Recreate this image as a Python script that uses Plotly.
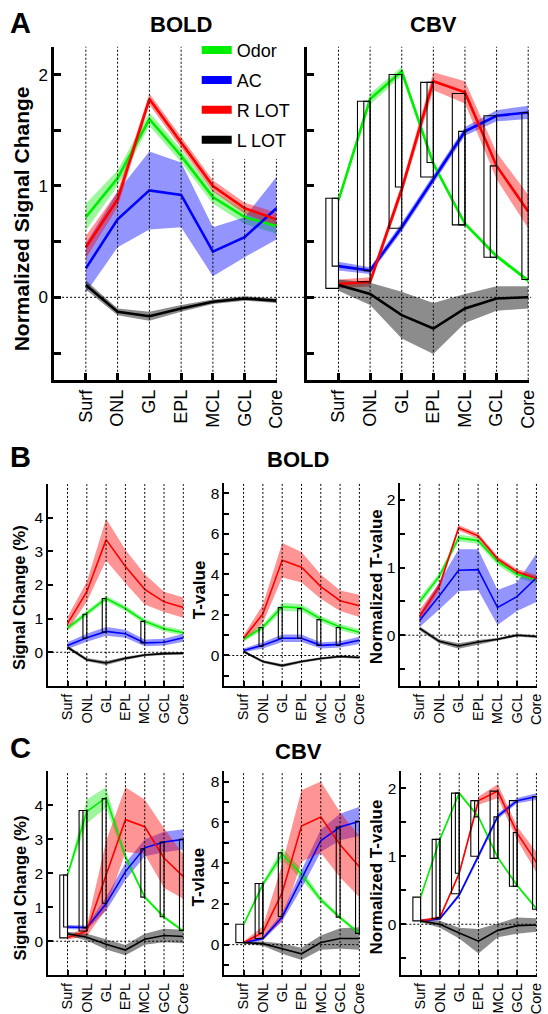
import plotly.graph_objects as go

W, H = 548, 1014
FONT = "Liberation Sans, Arial, Helvetica, sans-serif"

LAYERS = ["Surf", "ONL", "GL", "EPL", "MCL", "GCL", "Core"]
SERIES = ["Odor", "AC", "R LOT", "L LOT"]

# ---------------- Panel A, BOLD (normalized signal change) ----------------
A_BOLD_ODOR = [0.72, 1.07, 1.60, 1.27, 0.90, 0.72, 0.64]
A_BOLD_ODOR_ERR = [0.12, 0.07, 0.06, 0.06, 0.06, 0.06, 0.07]
A_BOLD_AC = [0.26, 0.70, 0.96, 0.92, 0.41, 0.54, 0.80]
A_BOLD_AC_ERR = [0.22, 0.25, 0.35, 0.29, 0.22, 0.18, 0.28]
A_BOLD_RLOT = [0.45, 0.88, 1.78, 1.39, 1.00, 0.80, 0.70]
A_BOLD_RLOT_ERR = [0.10, 0.07, 0.05, 0.05, 0.05, 0.05, 0.06]
A_BOLD_LLOT = [0.11, -0.13, -0.17, -0.10, -0.04, -0.01, -0.03]
A_BOLD_LLOT_ERR = [0.04, 0.03, 0.04, 0.03, 0.02, 0.02, 0.02]

# ---------------- Panel A, CBV (normalized signal change) ----------------
A_CBV_ODOR = [0.87, 1.78, 2.03, 1.20, 0.66, 0.37, 0.15]
A_CBV_ODOR_ERR = [0.02, 0.05, 0.04, 0.02, 0.02, 0.02, 0.02]
A_CBV_AC = [0.28, 0.24, 0.63, 1.06, 1.49, 1.63, 1.66]
A_CBV_AC_ERR = [0.04, 0.03, 0.04, 0.04, 0.04, 0.05, 0.06]
A_CBV_RLOT = [0.12, 0.14, 0.97, 1.94, 1.84, 1.18, 0.77]
A_CBV_RLOT_ERR = [0.04, 0.04, 0.05, 0.08, 0.10, 0.12, 0.15]
A_CBV_LLOT = [0.11, 0.03, -0.16, -0.28, -0.10, -0.01, 0.00]
A_CBV_LLOT_ERR = [0.05, 0.10, 0.21, 0.23, 0.13, 0.11, 0.10]
# significance boxes: (layer index, low, high, wide?)
A_CBV_BOXES = [(0, 0.08, 0.89, 1), (0, 0.28, 0.89, 0),
               (1, 0.14, 1.76, 1), (1, 0.24, 1.76, 0),
               (2, 0.62, 2.00, 1), (2, 0.99, 2.00, 0),
               (3, 1.08, 1.93, 1), (3, 1.21, 1.93, 0),
               (4, 0.65, 1.83, 1), (4, 0.65, 1.49, 0),
               (5, 0.36, 1.63, 1), (5, 0.36, 1.18, 0),
               (6, 0.16, 1.66, 0)]

# ---------------- Panel B, BOLD: signal change (%) ----------------
B_SC_ODOR = [0.72, 1.15, 1.60, 1.30, 0.92, 0.70, 0.58]
B_SC_ODOR_ERR = [0.08, 0.08, 0.08, 0.08, 0.08, 0.08, 0.08]
B_SC_AC = [0.20, 0.43, 0.62, 0.55, 0.28, 0.30, 0.43]
B_SC_AC_ERR = [0.10, 0.12, 0.13, 0.12, 0.10, 0.10, 0.12]
B_SC_RLOT = [0.85, 1.80, 3.35, 2.55, 1.87, 1.50, 1.33]
B_SC_RLOT_ERR = [0.20, 0.30, 0.62, 0.50, 0.45, 0.30, 0.30]
B_SC_LLOT = [0.15, -0.22, -0.32, -0.18, -0.08, -0.04, -0.03]
B_SC_LLOT_ERR = [0.05, 0.05, 0.06, 0.05, 0.04, 0.04, 0.04]
B_SC_BOXES = [(1, 0.42, 1.13, 0), (2, 0.60, 1.60, 0), (4, 0.28, 0.92, 0)]

# ---------------- Panel B, BOLD: T-value ----------------
B_T_ODOR = [0.80, 1.40, 2.40, 2.35, 1.80, 1.40, 1.15]
B_T_ODOR_ERR = [0.12, 0.15, 0.20, 0.18, 0.15, 0.15, 0.15]
B_T_AC = [0.25, 0.50, 0.85, 0.85, 0.50, 0.55, 0.75]
B_T_AC_ERR = [0.10, 0.15, 0.18, 0.18, 0.15, 0.15, 0.18]
B_T_RLOT = [0.85, 2.05, 4.70, 4.35, 3.40, 2.70, 2.45]
B_T_RLOT_ERR = [0.15, 0.45, 0.85, 0.75, 0.60, 0.50, 0.55]
B_T_LLOT = [0.20, -0.30, -0.50, -0.30, -0.15, -0.05, -0.10]
B_T_LLOT_ERR = [0.06, 0.07, 0.08, 0.07, 0.06, 0.06, 0.06]
B_T_BOXES = [(1, 0.45, 1.38, 0), (2, 0.85, 2.36, 0), (3, 0.85, 2.31, 0),
             (4, 0.49, 1.77, 0), (5, 0.49, 1.38, 0)]

# ---------------- Panel B, BOLD: normalized T-value ----------------
B_NT_ODOR = [0.50, 0.87, 1.44, 1.40, 1.09, 0.90, 0.82]
B_NT_ODOR_ERR = [0.06, 0.05, 0.05, 0.05, 0.05, 0.05, 0.06]
B_NT_AC = [0.22, 0.58, 0.96, 0.97, 0.41, 0.57, 0.85]
B_NT_AC_ERR = [0.10, 0.20, 0.31, 0.30, 0.26, 0.21, 0.36]
B_NT_RLOT = [0.28, 0.72, 1.59, 1.47, 1.13, 0.94, 0.84]
B_NT_RLOT_ERR = [0.10, 0.05, 0.04, 0.04, 0.04, 0.04, 0.05]
B_NT_LLOT = [0.10, -0.09, -0.16, -0.10, -0.06, 0.00, -0.02]
B_NT_LLOT_ERR = [0.03, 0.03, 0.04, 0.03, 0.02, 0.02, 0.02]

# ---------------- Panel C, CBV: signal change (%) ----------------
C_SC_ODOR = [1.95, 3.82, 4.23, 2.49, 1.30, 0.71, 0.30]
C_SC_ODOR_ERR = [0.05, 0.35, 0.30, 0.10, 0.06, 0.05, 0.05]
C_SC_AC = [0.42, 0.40, 1.10, 2.05, 2.75, 2.92, 3.00]
C_SC_AC_ERR = [0.06, 0.06, 0.20, 0.25, 0.25, 0.30, 0.30]
C_SC_RLOT = [0.10, 0.30, 1.95, 3.58, 3.37, 2.45, 1.90]
C_SC_RLOT_ERR = [0.05, 0.15, 1.00, 0.95, 0.80, 0.88, 0.65]
C_SC_LLOT = [0.22, 0.12, -0.09, -0.26, 0.06, 0.17, 0.14]
C_SC_LLOT_ERR = [0.06, 0.10, 0.15, 0.15, 0.16, 0.20, 0.20]
C_SC_BOXES = [(0, 0.10, 1.95, 1), (0, 0.42, 1.95, 0),
              (1, 0.30, 3.85, 1), (1, 0.40, 3.85, 0),
              (2, 1.12, 4.20, 0), (4, 1.30, 2.72, 0),
              (5, 0.72, 2.92, 0), (6, 0.32, 3.00, 0)]

# ---------------- Panel C, CBV: T-value ----------------
C_T_ODOR = [0.98, 2.96, 4.45, 3.45, 2.20, 1.33, 0.54]
C_T_ODOR_ERR = [0.06, 0.12, 0.30, 0.25, 0.15, 0.10, 0.10]
C_T_AC = [0.10, 0.30, 1.35, 3.20, 5.10, 5.77, 6.05]
C_T_AC_ERR = [0.05, 0.10, 0.20, 0.45, 0.55, 0.65, 0.72]
C_T_RLOT = [0.10, 0.60, 2.55, 5.82, 6.26, 4.90, 3.82]
C_T_RLOT_ERR = [0.05, 0.30, 1.40, 1.75, 1.75, 1.60, 1.50]
C_T_LLOT = [0.10, 0.05, -0.20, -0.45, 0.10, 0.30, 0.30]
C_T_LLOT_ERR = [0.05, 0.10, 0.25, 0.30, 0.35, 0.50, 0.55]
C_T_BOXES = [(0, 0.10, 1.00, 1),
             (1, 0.30, 3.00, 1), (1, 0.55, 3.00, 0),
             (2, 1.38, 4.50, 0), (5, 1.35, 5.77, 0), (6, 0.55, 6.05, 0)]

# ---------------- Panel C, CBV: normalized T-value ----------------
C_NT_ODOR = [0.40, 1.25, 1.93, 1.58, 0.98, 0.57, 0.23]
C_NT_ODOR_ERR = [0.02, 0.02, 0.02, 0.02, 0.02, 0.02, 0.02]
C_NT_AC = [0.05, 0.08, 0.43, 1.00, 1.59, 1.82, 1.88]
C_NT_AC_ERR = [0.02, 0.02, 0.03, 0.04, 0.04, 0.04, 0.05]
C_NT_RLOT = [0.05, 0.10, 0.75, 1.82, 1.96, 1.34, 0.91]
C_NT_RLOT_ERR = [0.02, 0.02, 0.03, 0.06, 0.10, 0.10, 0.15]
C_NT_LLOT = [0.05, 0.00, -0.13, -0.25, -0.09, -0.02, -0.01]
C_NT_LLOT_ERR = [0.02, 0.05, 0.08, 0.18, 0.10, 0.12, 0.10]
C_NT_BOXES = [(0, 0.05, 0.40, 1),
              (1, 0.08, 1.25, 1), (1, 0.10, 1.25, 0),
              (2, 0.45, 1.93, 1), (2, 0.75, 1.93, 0),
              (3, 1.00, 1.82, 1), (3, 1.58, 1.82, 0),
              (4, 0.97, 1.96, 1), (4, 0.97, 1.58, 0),
              (5, 0.56, 1.82, 1), (5, 0.56, 1.35, 0),
              (6, 0.22, 1.88, 0)]

# ---------------- styling ----------------
LINE_COLORS = ["#00ee00", "#0000ff", "#ff0000", "#000000"]
FILL_COLORS = ["rgba(0,235,0,0.38)", "rgba(0,0,255,0.42)",
               "rgba(255,0,0,0.42)", "rgba(0,0,0,0.45)"]
X = [i + 1 for i in range(len(LAYERS))]

# panel geometry in pixels: (x-left, x-right, y-top, y-bottom)
PANELS = [
    dict(px=(55, 282), py=(47, 382), yr=(-0.74, 2.25), kind="norm", labels=True, big=True,
         data=[(A_BOLD_ODOR, A_BOLD_ODOR_ERR), (A_BOLD_AC, A_BOLD_AC_ERR),
               (A_BOLD_RLOT, A_BOLD_RLOT_ERR), (A_BOLD_LLOT, A_BOLD_LLOT_ERR)], boxes=[]),
    dict(px=(312, 538), py=(47, 382), yr=(-0.74, 2.25), kind="norm", labels=False, big=True,
         data=[(A_CBV_ODOR, A_CBV_ODOR_ERR), (A_CBV_AC, A_CBV_AC_ERR),
               (A_CBV_RLOT, A_CBV_RLOT_ERR), (A_CBV_LLOT, A_CBV_LLOT_ERR)], boxes=A_CBV_BOXES),
    dict(px=(49, 187), py=(487, 690), yr=(-1, 5), kind="sc", labels=True, big=False,
         data=[(B_SC_ODOR, B_SC_ODOR_ERR), (B_SC_AC, B_SC_AC_ERR),
               (B_SC_RLOT, B_SC_RLOT_ERR), (B_SC_LLOT, B_SC_LLOT_ERR)], boxes=B_SC_BOXES),
    dict(px=(228, 366), py=(486, 690), yr=(-1.5, 8.5), kind="t", labels=True, big=False,
         data=[(B_T_ODOR, B_T_ODOR_ERR), (B_T_AC, B_T_AC_ERR),
               (B_T_RLOT, B_T_RLOT_ERR), (B_T_LLOT, B_T_LLOT_ERR)], boxes=B_T_BOXES),
    dict(px=(407, 546), py=(486, 690), yr=(-0.75, 2.25), kind="norm", labels=True, big=False,
         data=[(B_NT_ODOR, B_NT_ODOR_ERR), (B_NT_AC, B_NT_AC_ERR),
               (B_NT_RLOT, B_NT_RLOT_ERR), (B_NT_LLOT, B_NT_LLOT_ERR)], boxes=[]),
    dict(px=(49, 187), py=(776, 981), yr=(-1, 5), kind="sc", labels=True, big=False,
         data=[(C_SC_ODOR, C_SC_ODOR_ERR), (C_SC_AC, C_SC_AC_ERR),
               (C_SC_RLOT, C_SC_RLOT_ERR), (C_SC_LLOT, C_SC_LLOT_ERR)], boxes=C_SC_BOXES),
    dict(px=(228, 366), py=(776, 981), yr=(-1.5, 8.5), kind="t", labels=True, big=False,
         data=[(C_T_ODOR, C_T_ODOR_ERR), (C_T_AC, C_T_AC_ERR),
               (C_T_RLOT, C_T_RLOT_ERR), (C_T_LLOT, C_T_LLOT_ERR)], boxes=C_T_BOXES),
    dict(px=(408, 546), py=(776, 981), yr=(-0.75, 2.25), kind="norm", labels=True, big=False,
         data=[(C_NT_ODOR, C_NT_ODOR_ERR), (C_NT_AC, C_NT_AC_ERR),
               (C_NT_RLOT, C_NT_RLOT_ERR), (C_NT_LLOT, C_NT_LLOT_ERR)], boxes=C_NT_BOXES),
]

def yticks(kind, labels):
    if kind == "norm":
        vals = [-0.5, 0, 0.5, 1, 1.5, 2]
        txt = ["", "0", "", "1", "", "2"]
    elif kind == "sc":
        vals = [0, 1, 2, 3, 4, 5]
        txt = ["0", "1", "2", "3", "4", ""]
    else:
        vals = [-1, 0, 1, 2, 3, 4, 5, 6, 7, 8]
        txt = ["", "0", "", "2", "", "4", "", "6", "", "8"]
    if not labels:
        txt = ["" for _ in vals]
    return vals, txt

fig = go.Figure()
shapes = []
layout = {}

for n, p in enumerate(PANELS, start=1):
    xa = "x" if n == 1 else f"x{n}"
    ya = "y" if n == 1 else f"y{n}"
    lw = 2.6 if p["big"] else 1.6
    # bands
    for (m, e), fc in zip(p["data"], FILL_COLORS):
        lo = [a - b for a, b in zip(m, e)]
        hi = [a + b for a, b in zip(m, e)]
        fig.add_trace(go.Scatter(x=X + X[::-1], y=hi + lo[::-1], fill="toself",
                                 fillcolor=fc, line=dict(width=0), mode="lines",
                                 hoverinfo="skip", showlegend=False, xaxis=xa, yaxis=ya))
    # mean lines
    for (m, e), lc, name in zip(p["data"], LINE_COLORS, SERIES):
        fig.add_trace(go.Scatter(x=X, y=m, mode="lines", name=name,
                                 line=dict(color=lc, width=lw),
                                 showlegend=False, xaxis=xa, yaxis=ya))
    # dotted layer guides
    for xv in X:
        shapes.append(dict(type="line", xref=xa, yref=f"{ya} domain", x0=xv, x1=xv,
                           y0=0, y1=1, line=dict(color="black", width=1, dash="2px,2px")))
    if n > 2:
        shapes.append(dict(type="line", xref=f"{xa} domain", yref=ya, x0=0, x1=1,
                           y0=0, y1=0, line=dict(color="black", width=1, dash="2px,2px")))
    # significance boxes
    for (li, lo_v, hi_v, wide) in p["boxes"]:
        wdt = 0.4 if wide else 0.2
        shapes.append(dict(type="rect", xref=xa, yref=ya, x0=X[li] - wdt, x1=X[li],
                           y0=lo_v, y1=hi_v, line=dict(color="black", width=1.1),
                           fillcolor="rgba(0,0,0,0)"))
    tv, tt = yticks(p["kind"], p["labels"])
    axis_w = 2.5 if p["big"] else 1.8
    layout["xaxis" if n == 1 else f"xaxis{n}"] = dict(
        domain=[p["px"][0] / W, p["px"][1] / W], range=[0, 7.03], anchor=ya,
        showline=True, linecolor="black", linewidth=axis_w, mirror=False,
        ticks="inside", ticklen=7 if p["big"] else 5, tickwidth=axis_w, tickcolor="black",
        tickvals=X, ticktext=LAYERS, tickangle=-90,
        tickfont=dict(family=FONT, size=18 if p["big"] else 14.5, color="black"),
        showgrid=False, zeroline=False)
    layout["yaxis" if n == 1 else f"yaxis{n}"] = dict(
        domain=[1 - p["py"][1] / H, 1 - p["py"][0] / H], range=list(p["yr"]), anchor=xa,
        showline=True, linecolor="black", linewidth=axis_w, mirror=False,
        ticks="inside", ticklen=7 if p["big"] else 5, tickwidth=axis_w, tickcolor="black",
        tickvals=tv, ticktext=tt,
        tickfont=dict(family=FONT, size=17 if p["big"] else 15.5, color="black"),
        showgrid=False, zeroline=False)

# zero line across both panels of A
shapes.append(dict(type="line", xref="paper", yref="y", x0=55 / W, x1=540 / W, y0=0, y1=0,
                   line=dict(color="black", width=1, dash="2px,2px")))

# legend entries (thick swatches)
for lc, name in zip(LINE_COLORS, SERIES):
    fig.add_trace(go.Scatter(x=[None], y=[None], mode="lines", name=name,
                             line=dict(color=lc, width=8), xaxis="x", yaxis="y",
                             legendgroup=name, showlegend=True))

def ann(text, x, y, size, bold=True, angle=0):
    t = f"<b>{text}</b>" if bold else text
    return dict(text=t, x=x / W, y=1 - y / H, xref="paper", yref="paper",
                xanchor="center", yanchor="middle", showarrow=False, textangle=angle,
                font=dict(family=FONT, size=size, color="black"))

annotations = [
    ann("A", 21, 23, 29), ann("B", 21, 460, 29), ann("C", 21, 752, 29),
    ann("BOLD", 184, 25, 22), ann("CBV", 441, 25, 22),
    ann("BOLD", 303, 462, 22), ann("CBV", 303, 756, 22),
    ann("Normalized Signal Change", 22, 220, 21, angle=-90),
    ann("Signal Change (%)", 20, 601, 16.5, angle=-90),
    ann("T-value", 203, 593, 17, angle=-90),
    ann("Normalized T-value", 383, 590, 17, angle=-90),
    ann("Signal Change (%)", 20, 893, 16.5, angle=-90),
    ann("T-vlaue", 202, 882, 17, angle=-90),
    ann("Normalized T-value", 383, 882, 17, angle=-90),
]

fig.update_layout(
    width=W, height=H, margin=dict(l=0, r=0, t=0, b=0, pad=0),
    paper_bgcolor="white", plot_bgcolor="rgba(0,0,0,0)",
    showlegend=True,
    legend=dict(x=200 / W, y=1 - 32 / H, xanchor="left", yanchor="top",
                bgcolor="white", borderwidth=0, tracegroupgap=3.5,
                font=dict(family=FONT, size=18, color="black"), itemwidth=30),
    shapes=shapes, annotations=annotations, **layout)

fig.write_html("out.html")
